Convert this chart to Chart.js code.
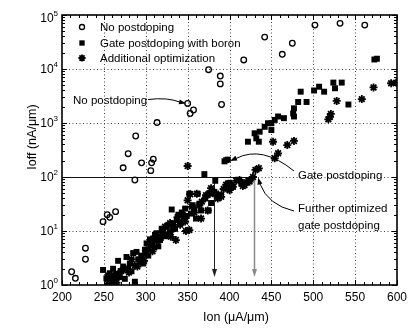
<!DOCTYPE html>
<html>
<head>
<meta charset="utf-8">
<script src="https://cdn.jsdelivr.net/npm/chart.js@4/dist/chart.umd.min.js"></script>
<style>
  html, body { margin: 0; padding: 0; background: #fff; }
  canvas { display: block; }
</style>
</head>
<body>
<canvas id="c" width="410" height="329"></canvas>
<script>
// Axis ticks
const ionTicks = [200, 250, 300, 350, 400, 450, 500, 550, 600];
const ioffExponents = [0, 1, 2, 3, 4, 5];

// No postdoping
const noPostIon  = [211.5, 216, 228, 228, 249, 254, 257, 264, 273, 279, 287, 288, 295, 306, 307, 309, 313.5, 350, 353, 357, 375, 389, 389, 390.5, 417, 442, 463, 475, 502, 532, 561.5];
const noPostIoff = [1.76, 1.33, 4.8, 3.0, 14.9, 20, 17.9, 22.8, 148, 270, 88, 575, 183, 131, 183, 213, 1020, 2300, 1500, 1740, 9700, 7400, 5300, 2200, 14700, 39000, 18700, 30000, 65000, 70000, 65000];

// Gate postdoping with boron
const boronIon  = [249, 253, 255, 257, 259, 261, 263, 265, 267, 269, 271, 273, 275, 277, 279, 281, 283, 285, 287, 289, 291, 293, 295, 297, 299, 301, 303, 305, 307, 309, 311, 313, 315, 317, 319, 321, 323, 325, 327, 329, 331, 333, 335, 337, 339, 341, 343, 345, 347, 349, 352, 354, 356, 358, 360, 362, 364, 366, 370, 371, 374, 375, 378, 382, 383, 388, 390, 394, 396, 398, 398, 400, 402, 404, 414, 422, 430, 432, 435, 436, 442, 446, 450, 450, 454, 458, 465, 476, 477, 477, 482, 485, 492, 501, 507, 513, 524, 526, 534, 542, 573, 576];
const boronIoff = [1.9, 1.33, 1.5, 1.65, 1.07, 2.0, 1.24, 1.6, 2.8, 1.4, 1.8, 2.2, 1.3, 3.3, 2.0, 2.5, 1.8, 3.9, 1.15, 4.1, 3.0, 2.7, 3.5, 2.5, 4.5, 5.9, 3.5, 7.0, 5.5, 7.3, 8.5, 9.1, 5.2, 6.8, 11, 10.4, 8.0, 12, 13, 9.5, 25, 14, 11, 16, 20, 14, 22, 17, 26, 19, 49, 21, 30, 25, 17, 49, 32, 24, 113, 40, 46, 24, 33, 53, 85, 46, 46, 195, 205, 210, 76, 78, 71, 66, 76, 450, 645, 520, 450, 690, 850, 990, 990, 740, 1140, 1320, 1230, 1500, 1320, 1870, 2450, 3800, 2450, 4000, 4700, 3800, 5600, 4400, 5600, 2200, 15000, 15500];

// Additional optimization
const optIon  = [255, 258, 262, 265, 270, 275, 280, 283, 287, 290, 295, 298, 300, 303, 305, 308, 310, 313, 315, 318, 320, 323, 326, 329, 330, 333, 336, 338, 341, 344, 347, 348, 350, 350, 352, 353, 355, 358, 361, 364, 366, 367, 372, 374, 376, 378, 380, 384, 386, 390, 393, 396, 400, 404, 408, 412, 416, 418, 420, 423, 424, 428, 431, 435, 452, 454, 458, 469, 477, 518, 520, 521, 528, 558, 572, 593, 599];
const optIoff = [1.05, 1.3, 1.5, 1.1, 1.8, 2.0, 1.7, 3.0, 2.3, 2.2, 3.2, 2.8, 3.8, 4.5, 6.0, 4.2, 5.0, 6.5, 8.0, 7.5, 9.5, 12, 8.5, 14, 7.8, 11, 6.8, 18, 13, 20, 15, 10, 37, 160, 10.4, 48, 28, 22, 49, 30, 17, 35, 46, 24, 50, 62, 50, 49, 40, 43, 60, 72, 57, 66, 85, 88, 68, 71, 80, 85, 82, 100, 135, 145, 450, 222, 275, 390, 465, 1170, 1300, 1470, 2560, 2770, 4550, 5450, 5600];

// Target leakage and the resulting on-currents
const targetIoff = 100;
const resultIon = [381, 429];

const toPoints = (xs, ys) => xs.map((x, i) => ({ x: x, y: ys[i] }));

const FONT = '"Liberation Sans", Arial, Helvetica, sans-serif';

function arrowHead(ctx, tipX, tipY, fromX, fromY, len, half) {
  const a = Math.atan2(tipY - fromY, tipX - fromX);
  ctx.beginPath();
  ctx.moveTo(tipX, tipY);
  ctx.lineTo(tipX - len * Math.cos(a) + half * Math.sin(a), tipY - len * Math.sin(a) - half * Math.cos(a));
  ctx.lineTo(tipX - len * Math.cos(a) - half * Math.sin(a), tipY - len * Math.sin(a) + half * Math.cos(a));
  ctx.closePath();
  ctx.fill();
}

const decor = {
  id: 'decor',
  beforeDatasetsDraw(chart) {
    const { ctx, chartArea: a, scales: { x, y } } = chart;
    ctx.save();
    // dotted grid
    ctx.strokeStyle = '#444';
    ctx.lineWidth = 1;
    ctx.setLineDash([1, 2.5]);
    ionTicks.slice(1, -1).forEach(v => {
      const px = Math.round(x.getPixelForValue(v)) + 0.5;
      ctx.beginPath(); ctx.moveTo(px, a.top); ctx.lineTo(px, a.bottom); ctx.stroke();
    });
    ioffExponents.slice(1, -1).forEach(e => {
      const py = Math.round(y.getPixelForValue(Math.pow(10, e))) + 0.5;
      ctx.beginPath(); ctx.moveTo(a.left, py); ctx.lineTo(a.right, py); ctx.stroke();
    });
    ctx.setLineDash([]);

    // target leakage line and drop lines to the on-current axis
    const yT = Math.round(y.getPixelForValue(targetIoff)) + 0.5;
    const xEnd = x.getPixelForValue(resultIon[1]);
    ctx.strokeStyle = '#111';
    ctx.lineWidth = 1;
    ctx.beginPath(); ctx.moveTo(a.left, yT); ctx.lineTo(xEnd, yT); ctx.stroke();
    const tipY = y.getPixelForValue(1.4);
    resultIon.forEach((v, i) => {
      const px = Math.round(x.getPixelForValue(v)) + 0.5;
      ctx.strokeStyle = i === 0 ? '#222' : '#8a8a8a';
      ctx.fillStyle = i === 0 ? '#222' : '#8a8a8a';
      ctx.lineWidth = i === 0 ? 1 : 1.5;
      ctx.beginPath(); ctx.moveTo(px, yT); ctx.lineTo(px, tipY - 4); ctx.stroke();
      arrowHead(ctx, px, tipY, px, tipY - 10, 8, 2.5);
    });
    ctx.restore();
  },
  afterDatasetsDraw(chart) {
    const { ctx, chartArea: a, scales: { x, y } } = chart;
    ctx.save();
    // frame
    ctx.strokeStyle = '#000';
    ctx.lineWidth = 1.6;
    ctx.strokeRect(a.left, a.top, a.right - a.left, a.bottom - a.top);

    // ticks, pointing inward on all four sides
    ctx.lineWidth = 1;
    for (let v = 200; v <= 600; v += 10) {
      const px = Math.round(x.getPixelForValue(v)) + 0.5;
      const len = v % 50 === 0 ? 5 : 3;
      ctx.beginPath();
      ctx.moveTo(px, a.bottom); ctx.lineTo(px, a.bottom - len);
      ctx.moveTo(px, a.top); ctx.lineTo(px, a.top + len);
      ctx.stroke();
    }
    for (let e = 0; e < 5; e++) {
      for (let m = 1; m <= 10; m++) {
        const py = Math.round(y.getPixelForValue(m * Math.pow(10, e))) + 0.5;
        const len = (m === 1 || m === 10) ? 5 : 3;
        ctx.beginPath();
        ctx.moveTo(a.left, py); ctx.lineTo(a.left + len, py);
        ctx.moveTo(a.right, py); ctx.lineTo(a.right - len, py);
        ctx.stroke();
      }
    }

    // tick labels
    ctx.fillStyle = '#000';
    ctx.font = '12px ' + FONT;
    ctx.textAlign = 'center';
    ctx.textBaseline = 'middle';
    ionTicks.forEach(v => ctx.fillText(String(v), x.getPixelForValue(v), a.bottom + 13));
    ioffExponents.forEach(e => {
      const py = y.getPixelForValue(Math.pow(10, e));
      const mid = Math.max(py + 1, a.top + 3.5);
      ctx.font = '8px ' + FONT;
      const ew = ctx.measureText(String(e)).width;
      const right = a.left - 4;
      ctx.textAlign = 'left';
      ctx.fillText(String(e), right - ew, mid - 5);
      ctx.font = '12px ' + FONT;
      ctx.textAlign = 'right';
      ctx.fillText('10', right - ew, mid);
    });

    // axis titles
    ctx.font = '12.5px ' + FONT;
    ctx.textAlign = 'center';
    ctx.fillText('Ion (\u03BCA/\u03BCm)', 236, a.bottom + 33);
    ctx.save();
    ctx.translate(33, 137);
    ctx.rotate(-Math.PI / 2);
    ctx.fillText('Ioff (nA/\u03BCm)', 0, 0);
    ctx.restore();

    // legend
    const items = chart.data.datasets;
    ctx.font = '11.5px ' + FONT;
    ctx.textAlign = 'left';
    [27, 43, 58].forEach((ly, i) => {
      const ds = items[i];
      ctx.save();
      ctx.fillStyle = ds.backgroundColor;
      ctx.strokeStyle = ds.borderColor;
      ctx.lineWidth = ds.borderWidth;
      Chart.helpers.drawPoint(ctx, {
        pointStyle: ds.pointStyle, radius: ds.pointRadius * 0.9,
        borderWidth: ds.borderWidth, rotation: 0
      }, 82, ly);
      ctx.restore();
      ctx.fillStyle = '#000';
      ctx.fillText(ds.label, 100, ly + 0.5);
    });

    // annotations
    ctx.strokeStyle = '#000';
    ctx.fillStyle = '#000';
    ctx.lineWidth = 1;
    ctx.fillText('No postdoping', 73, 101);
    ctx.beginPath(); ctx.moveTo(148, 99.5); ctx.quadraticCurveTo(168, 97, 181, 102.5); ctx.stroke();
    arrowHead(ctx, 186, 103.5, 178, 101.5, 7, 2.5);

    ctx.fillText('Gate postdoping', 298, 176);
    ctx.beginPath(); ctx.moveTo(294, 171); ctx.quadraticCurveTo(262, 145, 236, 158.5); ctx.stroke();
    arrowHead(ctx, 230, 161, 240, 156.5, 7, 2.5);

    ctx.fillText('Further optimized', 298, 209);
    ctx.fillText('gate postdoping', 298, 226);
    ctx.beginPath(); ctx.moveTo(294, 211); ctx.quadraticCurveTo(268, 205, 260, 184); ctx.stroke();
    arrowHead(ctx, 258, 177.5, 260.5, 186, 7, 2.5);
    ctx.restore();
  }
};

new Chart(document.getElementById('c'), {
  type: 'scatter',
  data: {
    datasets: [
      {
        label: 'No postdoping',
        data: toPoints(noPostIon, noPostIoff),
        pointStyle: 'circle', pointRadius: 2.8, borderWidth: 1.3,
        borderColor: '#000', backgroundColor: 'rgba(255,255,255,0)'
      },
      {
        label: 'Gate postdoping with boron',
        data: toPoints(boronIon, boronIoff),
        pointStyle: 'rect', pointRadius: 4.2, borderWidth: 0,
        borderColor: '#000', backgroundColor: '#000'
      },
      {
        label: 'Additional optimization',
        data: toPoints(optIon, optIoff),
        pointStyle: 'star', pointRadius: 4, borderWidth: 1.8,
        borderColor: '#000', backgroundColor: '#000'
      }
    ]
  },
  options: {
    responsive: false,
    animation: false,
    devicePixelRatio: 1,
    layout: { padding: { top: 15, right: 13, bottom: 0, left: 0 } },
    plugins: { legend: { display: false }, tooltip: { enabled: false } },
    elements: { point: { hoverRadius: 0 } },
    scales: {
      x: {
        type: 'linear', min: 200, max: 600,
        ticks: { display: false }, grid: { display: false }, border: { display: false },
        afterFit(s) { s.height = 44; }
      },
      y: {
        type: 'logarithmic', min: 1, max: 100000,
        ticks: { display: false }, grid: { display: false }, border: { display: false },
        afterFit(s) { s.width = 62; }
      }
    }
  },
  plugins: [decor]
});
</script>
</body>
</html>
